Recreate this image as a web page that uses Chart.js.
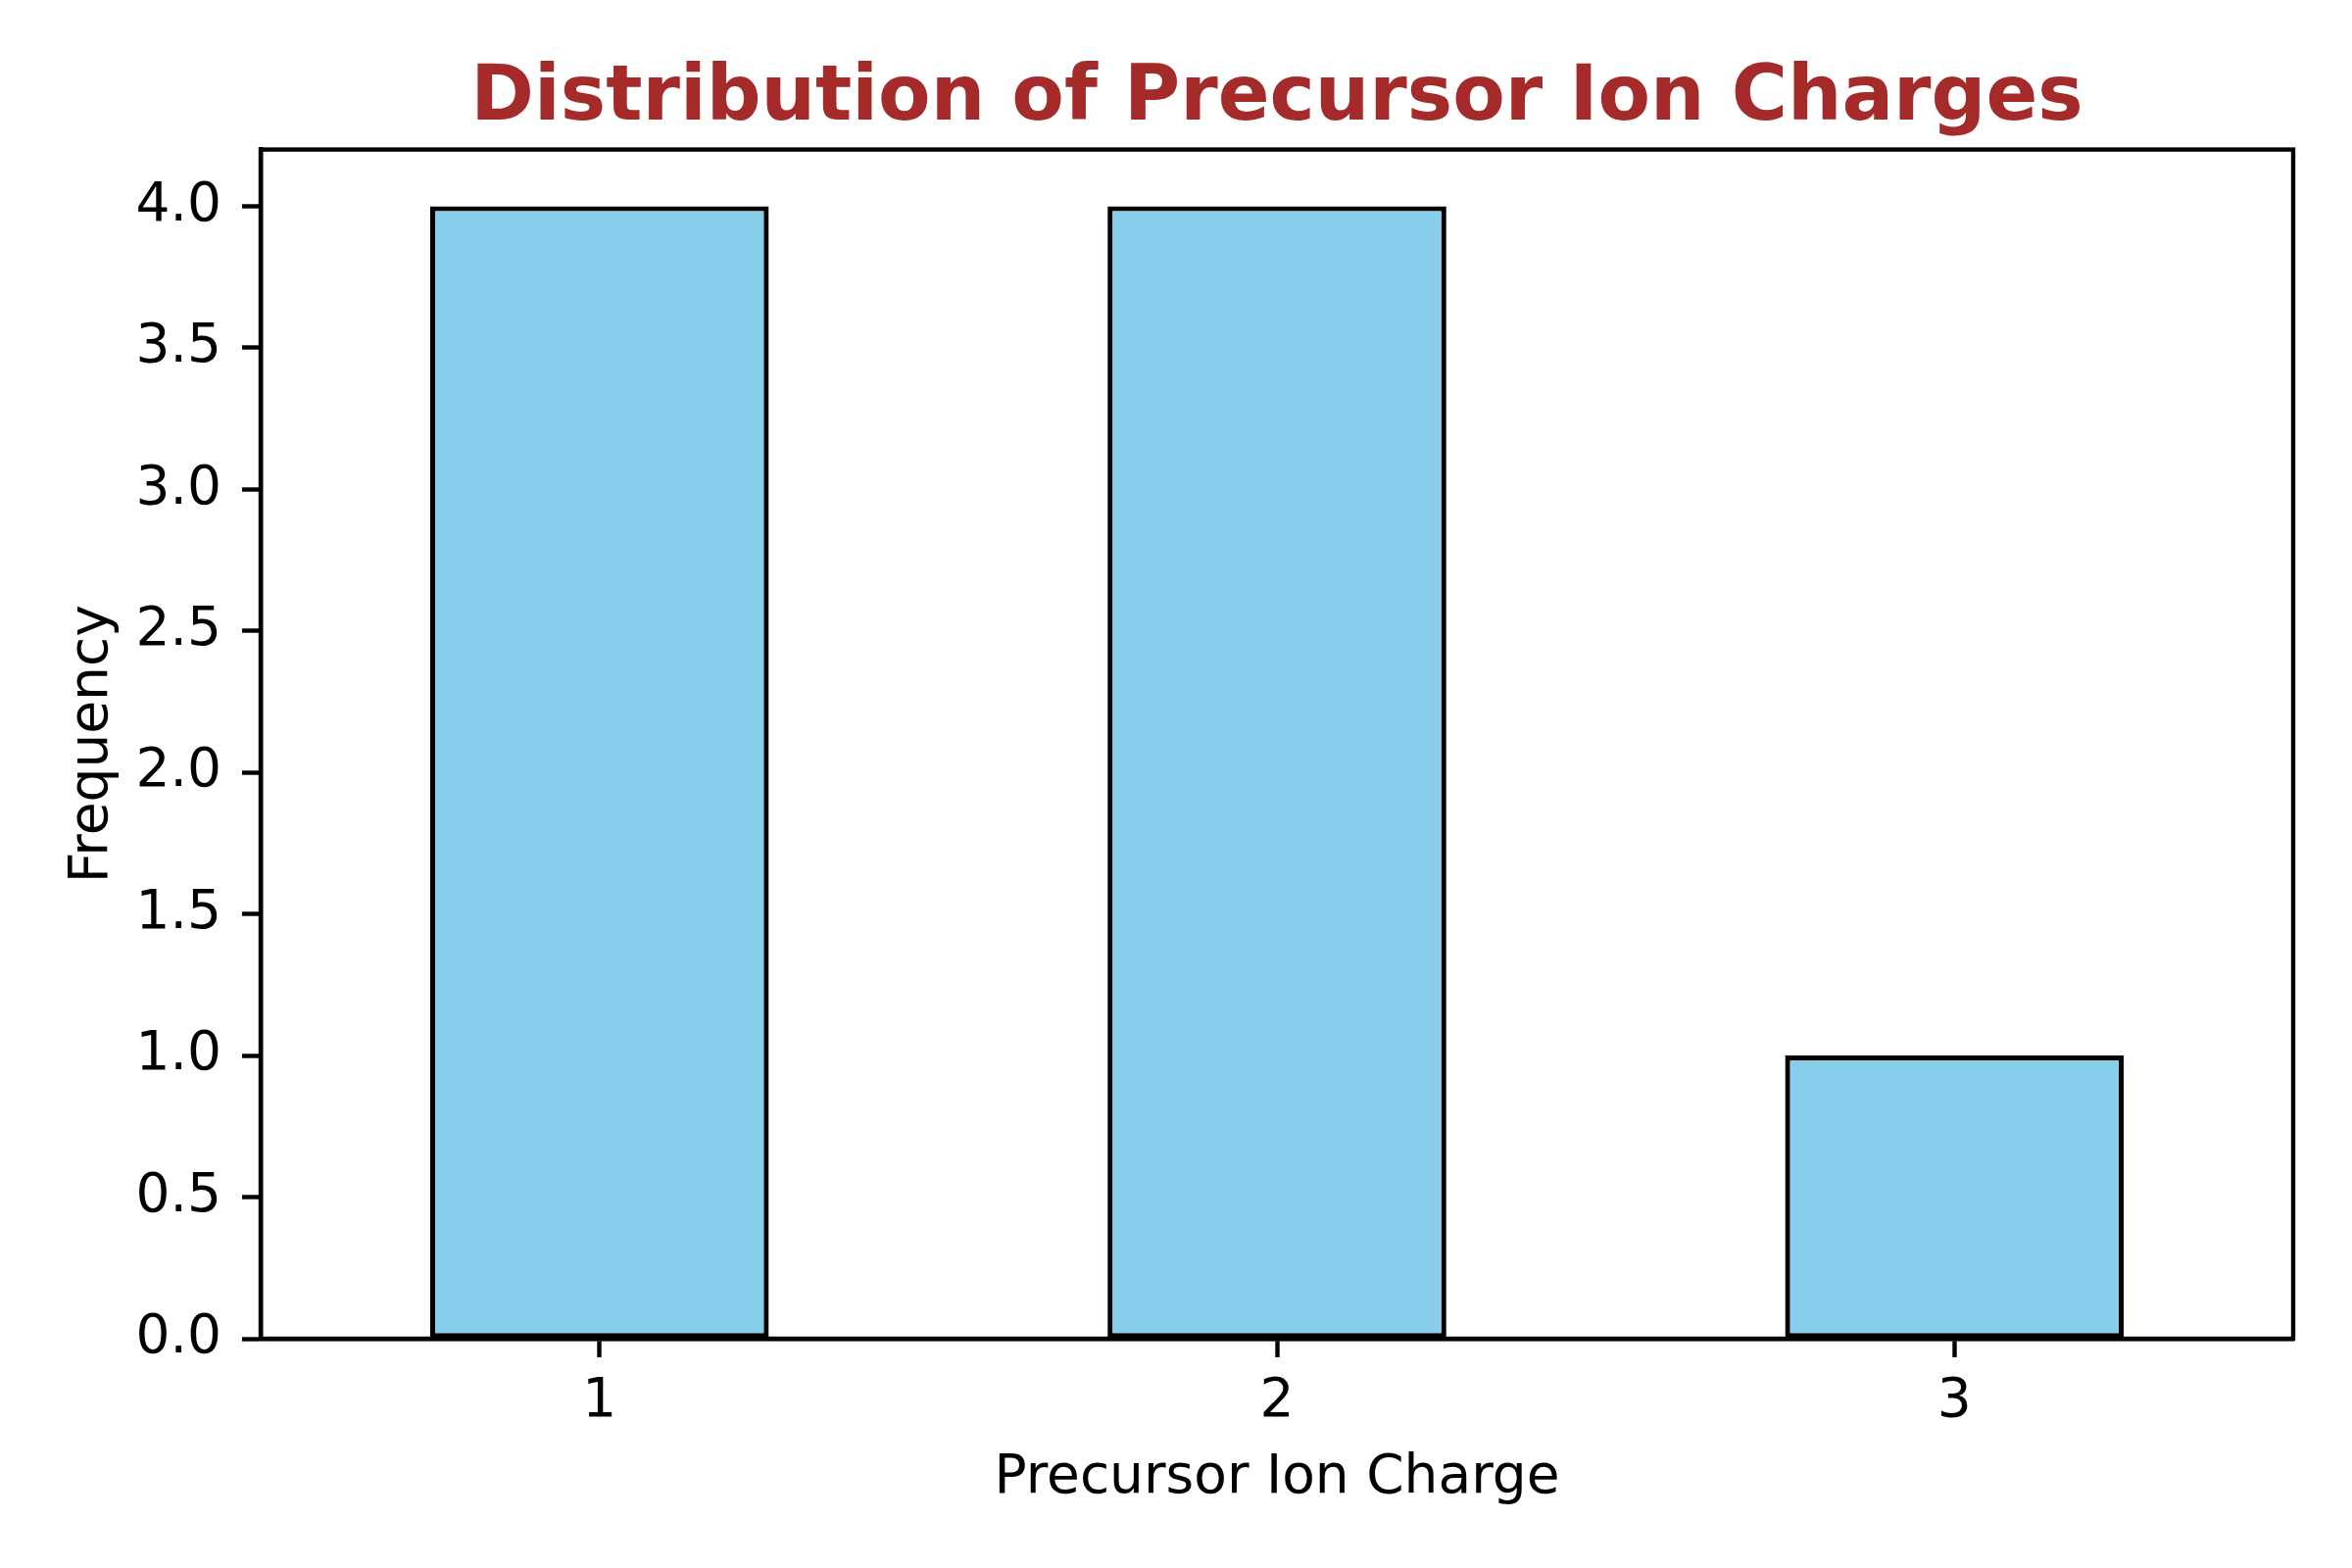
<!DOCTYPE html>
<html>
<head>
<meta charset="utf-8">
<script src="https://cdn.jsdelivr.net/npm/chart.js@4"></script>
<style>
  body { margin: 0; background: #fff; }
  .wrap { width: 2400px; height: 1600px; }
</style>
</head>
<body>
<div class="wrap"><canvas id="chargeChart"></canvas></div>
<script>
let charges = ['1', '2', '3'];
let frequency = [4, 4, 1];
let yTicks = [0, 0.5, 1, 1.5, 2, 2.5, 3, 3.5, 4];

let ctx = document.querySelector('#chargeChart').getContext('2d');

// box around the plot, like matplotlib spines
let frameBox = {
    id: 'frameBox',
    afterDatasetsDraw(chart) {
        let a = chart.chartArea;
        let c = chart.ctx;
        c.save();
        c.strokeStyle = '#000';
        c.lineWidth = 4.4;
        c.strokeRect(a.left, a.top, a.right - a.left, a.bottom - a.top);
        c.restore();
    }
};

let tickFont = { family: 'DejaVu Sans', size: 55 };

var chart = new Chart(ctx, {
    type: 'bar',
    data: {
        labels: charges,
        datasets: [
            {
                data: frequency,
                backgroundColor: '#87CEEB',
                borderColor: '#000',
                borderWidth: 5.2,
                borderSkipped: false,
                categoryPercentage: 1,
                barPercentage: 0.5
            }
        ]
    },
    options: {
        responsive: true,
        maintainAspectRatio: false,
        devicePixelRatio: 1,
        animation: false,
        layout: { padding: { left: 0, right: 60, top: 0, bottom: 0 } },
        scales: {
            x: {
                type: 'category',
                offset: true,
                grid: { display: true, offset: false, drawOnChartArea: false, drawTicks: true, tickLength: 19, tickColor: '#000', tickWidth: 4.4 },
                border: { display: true, color: '#000', width: 4.4 },
                ticks: { color: '#000', font: tickFont, padding: 13 },
                title: { display: true, text: 'Precursor Ion Charge', color: '#000', font: tickFont, padding: { top: 0, bottom: 58 } },
                afterFit(scale) { scale.height = 234; }
            },
            y: {
                min: 0,
                max: 4.2,
                grid: { display: true, drawOnChartArea: false, drawTicks: true, tickLength: 19, tickColor: '#000', tickWidth: 4.4 },
                border: { display: true, color: '#000', width: 4.4 },
                ticks: {
                    color: '#000',
                    font: tickFont,
                    padding: 21,
                    callback: (v) => Number(v).toFixed(1)
                },
                afterBuildTicks(scale) { scale.ticks = yTicks.map(v => ({ value: v })); },
                title: { display: true, text: 'Frequency', color: '#000', font: tickFont, padding: { top: 62, bottom: 0 } },
                afterFit(scale) { scale.width = 266; }
            }
        },
        plugins: {
            legend: { display: false },
            tooltip: { enabled: false },
            title: {
                display: true,
                fullSize: false,
                text: 'Distribution of Precursor Ion Charges',
                color: '#A52A2A',
                font: { family: 'DejaVu Sans', size: 78, weight: 'bold' },
                padding: { top: 55, bottom: 4 }
            }
        }
    },
    plugins: [frameBox]
});
</script>
</body>
</html>
